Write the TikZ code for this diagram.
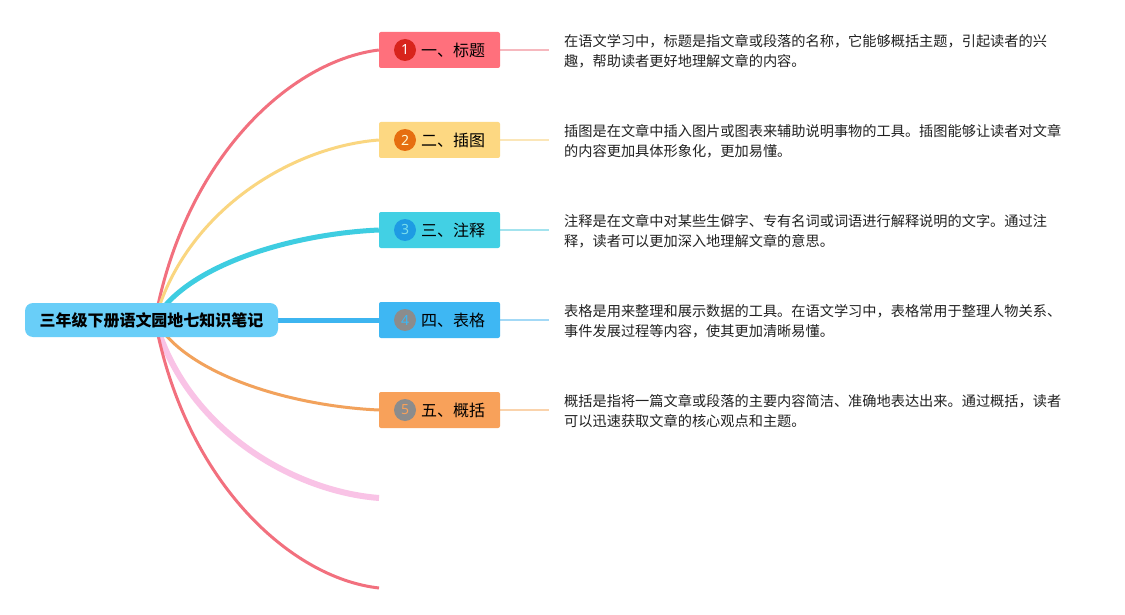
\documentclass[tikz,border=0pt]{standalone}
\usepackage{fontspec}
\setmainfont{Noto Sans CJK SC}
\newfontfamily\digitfont{Noto Sans}
\usetikzlibrary{backgrounds}
\definecolor{cRed}{HTML}{F2707E}
\definecolor{cRedNode}{HTML}{FF707C}
\definecolor{cRedDot}{HTML}{D8241C}
\definecolor{cRedThin}{HTML}{F6B8BE}
\definecolor{cYel}{HTML}{FAD680}
\definecolor{cYelNode}{HTML}{FDD882}
\definecolor{cYelDot}{HTML}{E66E10}
\definecolor{cYelThin}{HTML}{FBE6B8}
\definecolor{cCyan}{HTML}{3ECDE1}
\definecolor{cCyanNode}{HTML}{42D0E4}
\definecolor{cCyanDot}{HTML}{1E9BE3}
\definecolor{cCyanThin}{HTML}{A3E3EE}
\definecolor{cBlue}{HTML}{3DB5F0}
\definecolor{cBlueNode}{HTML}{3EB7F3}
\definecolor{cBlueThin}{HTML}{A3D9F6}
\definecolor{cOra}{HTML}{F2A25C}
\definecolor{cOraNode}{HTML}{F8A15A}
\definecolor{cOraThin}{HTML}{FAD3AC}
\definecolor{cPink}{HTML}{F9C3E6}
\definecolor{cGray}{HTML}{8C8C8C}
\definecolor{cRoot}{HTML}{69CEF8}
\definecolor{cText}{HTML}{222222}
\begin{document}
\begin{tikzpicture}[x=1pt,y=-1pt,
  rootbox/.style={fill=cRoot,rounded corners=8pt,minimum width=253pt,minimum height=34pt,inner sep=0pt,
    font=\fontsize{16}{18}\selectfont\bfseries,text=black},
  branchbox/.style={rounded corners=2pt,minimum width=121pt,minimum height=36pt,inner sep=0pt},
  numdot/.style={circle,minimum size=22pt,inner sep=0pt,font=\digitfont\fontsize{14}{14}\selectfont},
  blabel/.style={anchor=west,inner sep=0pt,font=\fontsize{16}{18}\selectfont,text=black},
  desc/.style={anchor=west,inner sep=0pt,align=left,font=\fontsize{14.2}{20}\selectfont,text=cText},
  curve/.style={line cap=butt},
  thinline/.style={line width=1.6pt}]
\useasboundingbox (0,0) rectangle (1125,615);

% root
\node[rootbox] (root) at (151.5,320) {三年级下册语文园地七知识笔记};
\coordinate (o) at (155,320);

% branch boxes
\node[branchbox,fill=cRedNode] (n1) at (439.5,50) {};
\node[branchbox,fill=cYelNode] (n2) at (439.5,140) {};
\node[branchbox,fill=cCyanNode] (n3) at (439.5,230) {};
\node[branchbox,fill=cBlueNode] (n4) at (439.5,320) {};
\node[branchbox,fill=cOraNode] (n5) at (439.5,410) {};
\coordinate (p6) at (379,498);
\coordinate (p7) at (379,588);

% number dots
\node[numdot,fill=cRedDot,text=white] (c1) at (405,50) {1};
\node[numdot,fill=cYelDot,text=white!85!yellow] (c2) at (405,140) {2};
\node[numdot,fill=cCyanDot,text=cCyanNode!70!white] (c3) at (405,230) {3};
\node[numdot,fill=cGray,text=cBlueNode] (c4) at (405,320) {4};
\node[numdot,fill=cGray,text=cOraNode] (c5) at (405,410) {5};

% labels
\node[blabel] (t1) at (421,50) {一、标题};
\node[blabel] (t2) at (421,140) {二、插图};
\node[blabel] (t3) at (421,230) {三、注释};
\node[blabel] (t4) at (421,320) {四、表格};
\node[blabel] (t5) at (421,410) {五、概括};

% description ends
\coordinate (e1) at (549,50);
\coordinate (e2) at (549,140);
\coordinate (e3) at (549,230);
\coordinate (e4) at (549,320);
\coordinate (e5) at (549,410);

\node[desc] (d1) at (564,51) {在语文学习中，标题是指文章或段落的名称，它能够概括主题，引起读者的兴\\趣，帮助读者更好地理解文章的内容。};
\node[desc] (d2) at (564,141) {插图是在文章中插入图片或图表来辅助说明事物的工具。插图能够让读者对文章\\的内容更加具体形象化，更加易懂。};
\node[desc] (d3) at (564,231) {注释是在文章中对某些生僻字、专有名词或词语进行解释说明的文字。通过注\\释，读者可以更加深入地理解文章的意思。};
\node[desc] (d4) at (564,321) {表格是用来整理和展示数据的工具。在语文学习中，表格常用于整理人物关系、\\事件发展过程等内容，使其更加清晰易懂。};
\node[desc] (d5) at (564,411) {概括是指将一篇文章或段落的主要内容简洁、准确地表达出来。通过概括，读者\\可以迅速获取文章的核心观点和主题。};

\begin{scope}[on background layer]
\fill[white] (0,0) rectangle (1125,615);
\draw[curve,cRed,line width=3pt] (o) .. controls (185,158) and (290,61) .. (n1.west);
\draw[curve,cYel,line width=3pt] (o) .. controls (185,212) and (290,147) .. (n2.west);
\draw[curve,cCyan,line width=5pt] (o) .. controls (185,266) and (290,234) .. (n3.west);
\draw[cBlue,line width=5pt] (root.east) -- (n4.west);
\draw[curve,cOra,line width=3pt] (o) .. controls (185,374) and (290,406) .. (n5.west);
\draw[curve,cPink,line width=6pt] (o) .. controls (185,427) and (290,491) .. (p6);
\draw[curve,cRed,line width=3pt] (o) .. controls (185,481) and (290,578) .. (p7);
\draw[thinline,cRedThin] (n1.east) -- (e1);
\draw[thinline,cYelThin] (n2.east) -- (e2);
\draw[thinline,cCyanThin] (n3.east) -- (e3);
\draw[thinline,cBlueThin] (n4.east) -- (e4);
\draw[thinline,cOraThin] (n5.east) -- (e5);
\end{scope}
\end{tikzpicture}
\end{document}
